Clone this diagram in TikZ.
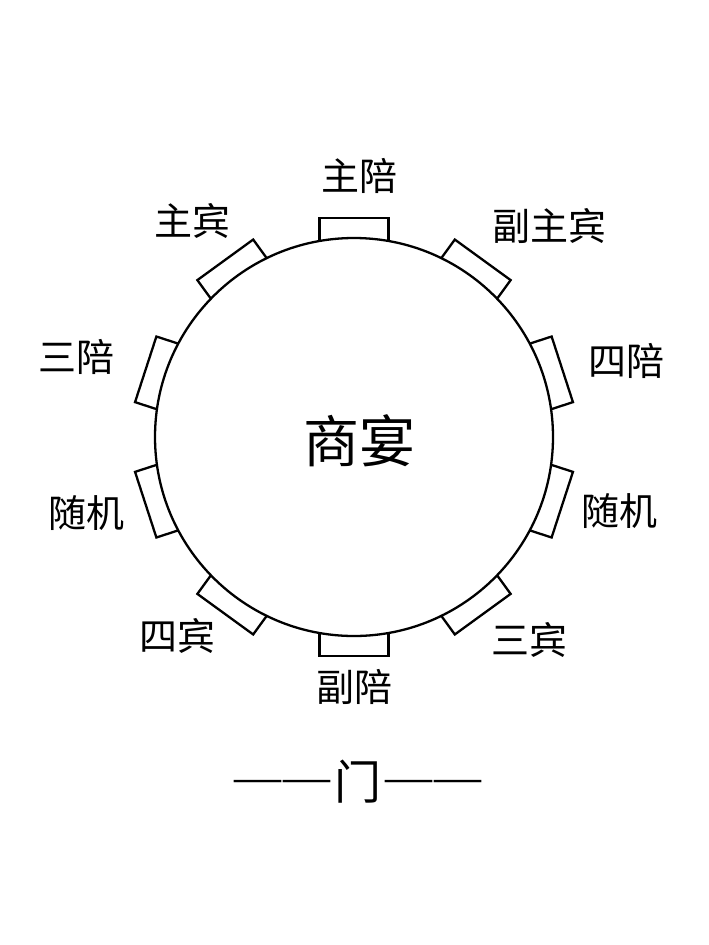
\documentclass[tikz,border=0pt]{standalone}
\usepackage{fontspec}
\newfontfamily\cjk{Noto Sans CJK SC}
\newfontfamily\serdash{Liberation Serif}
\newcommand{\wdash}{\raisebox{6.5pt}{\serdash —}}
\begin{document}
\begin{tikzpicture}[x=1pt,y=-1pt,
  chair/.style={draw=black,line width=2.3pt,fill=white},
  tablecircle/.style={draw=black,line width=2.3pt,fill=white},
  lbl/.style={font=\cjk\fontsize{38}{40}\selectfont,inner sep=0pt},
  title/.style={font=\cjk\fontsize{56}{60}\selectfont,inner sep=0pt},
  door/.style={font=\cjk\fontsize{47}{50}\selectfont,inner sep=0pt}]
\useasboundingbox[fill=white] (0,0) rectangle (709,945);
\coordinate (c) at (354,437);
\foreach \a in {90,54,18,-18,-54,-90,-126,-162,-198,-234}{
  \begin{scope}[shift={(c)},rotate=-\a+90]
    \draw[chair] (-34.5,-190) rectangle (34.5,-219);
  \end{scope}
}
\draw[tablecircle] (c) circle[radius=199];
\node[title] (t) at (359,441) {商宴};
\node[lbl] (zp) at (359,176) {主陪};
\node[lbl] (zb) at (192,221) {主宾};
\node[lbl] (fzb) at (549,226) {副主宾};
\node[lbl] (sp) at (76,357) {三陪};
\node[lbl] (sip) at (626,361) {四陪};
\node[lbl] (sjl) at (86,513) {随机};
\node[lbl] (sjr) at (619,511) {随机};
\node[lbl] (sib) at (177,636) {四宾};
\node[lbl] (sb) at (529,640) {三宾};
\node[lbl] (fp) at (354,687) {副陪};
\node[door,anchor=base] (men) at (358,799) {\wdash\hspace{3pt}\wdash\hspace{3.5pt}门\hspace{3.5pt}\wdash\hspace{3pt}\wdash};
\end{tikzpicture}
\end{document}
